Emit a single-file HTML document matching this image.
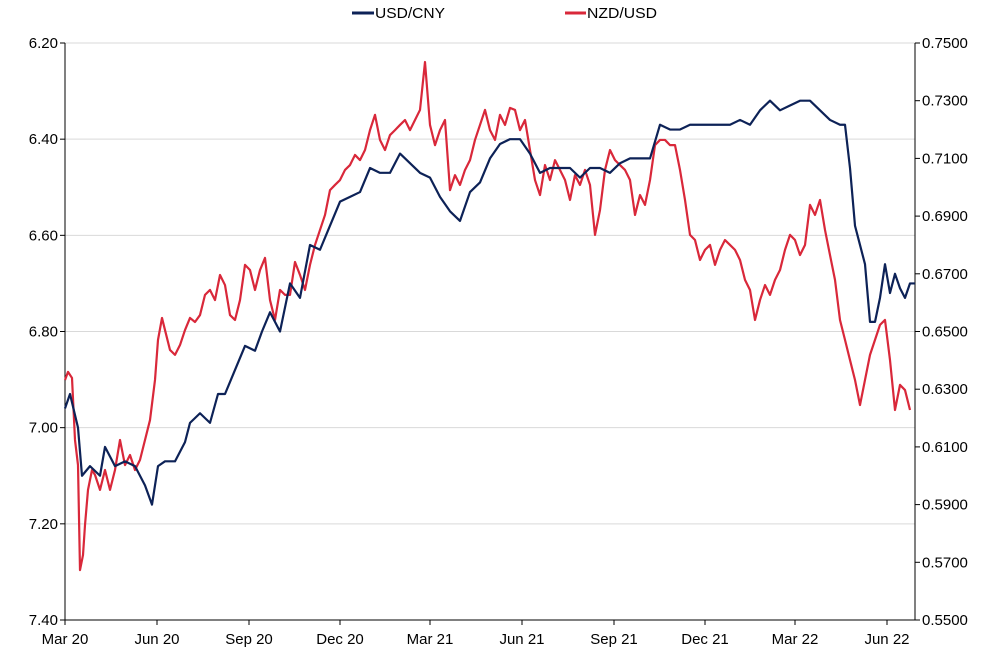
<!DOCTYPE html>
<html><head><meta charset="utf-8"><style>
body{margin:0;background:#fff;}
svg{display:block;font-family:"Liberation Sans Narrow","Liberation Sans",sans-serif;}
</style></head><body>
<svg id="chart" width="998" height="664" viewBox="0 0 998 664" xmlns="http://www.w3.org/2000/svg">
<g>
<g><line x1="352" y1="13" x2="374" y2="13" stroke="#0d2257" stroke-width="3"/><text x="375" y="18" font-size="15" fill="#000" textLength="70" lengthAdjust="spacingAndGlyphs">USD/CNY</text></g>
<g><line x1="565" y1="13" x2="586" y2="13" stroke="#d9283a" stroke-width="3"/><text x="587" y="18" font-size="15" fill="#000" textLength="70" lengthAdjust="spacingAndGlyphs">NZD/USD</text></g>
</g>
<g id="grid"></g>
<g id="axes"></g>
<g id="series"></g>
</svg>
<script>
const leftTicks=[6.20,6.40,6.60,6.80,7.00,7.20,7.40];
const rightTicks=[0.75,0.73,0.71,0.69,0.67,0.65,0.63,0.61,0.59,0.57,0.55];
const xLabels=["Mar 20","Jun 20","Sep 20","Dec 20","Mar 21","Jun 21","Sep 21","Dec 21","Mar 22","Jun 22"];
const xLabelDays=[0,92,184,275,365,457,549,640,730,822];
const cnyDays=[0,5,13,17,25,35,40,50,60,70,80,87,93,100,110,120,125,135,145,153,160,170,180,190,197,205,215,225,235,245,255,265,275,285,295,305,315,325,335,345,355,365,375,385,395,405,415,425,435,445,455,465,475,485,495,505,515,525,535,545,555,565,575,585,595,605,615,625,635,645,655,665,675,685,695,705,715,725,735,745,755,765,775,780,785,790,795,800,805,810,815,820,825,830,835,840,845,850];
const cnyVals=[6.96,6.93,7.00,7.10,7.08,7.10,7.04,7.08,7.07,7.08,7.12,7.16,7.08,7.07,7.07,7.03,6.99,6.97,6.99,6.93,6.93,6.88,6.83,6.84,6.80,6.76,6.80,6.70,6.73,6.62,6.63,6.58,6.53,6.52,6.51,6.46,6.47,6.47,6.43,6.45,6.47,6.48,6.52,6.55,6.57,6.51,6.49,6.44,6.41,6.40,6.40,6.43,6.47,6.46,6.46,6.46,6.48,6.46,6.46,6.47,6.45,6.44,6.44,6.44,6.37,6.38,6.38,6.37,6.37,6.37,6.37,6.37,6.36,6.37,6.34,6.32,6.34,6.33,6.32,6.32,6.34,6.36,6.37,6.37,6.46,6.58,6.62,6.66,6.78,6.78,6.73,6.66,6.72,6.68,6.71,6.73,6.70,6.70,6.71];
const nzdDays=[0,3,7,10,13,15,18,20,23,27,30,35,40,45,50,55,60,65,70,75,80,85,90,93,97,100,105,110,115,120,125,130,135,140,145,150,155,160,165,170,175,180,185,190,195,200,205,210,215,220,225,230,235,240,245,250,255,260,265,270,275,280,285,290,295,300,305,310,315,320,325,330,335,340,345,350,355,360,365,370,375,380,385,390,395,400,405,410,415,420,425,430,435,440,445,450,455,460,465,470,475,480,485,490,495,500,505,510,515,520,525,530,535,540,545,550,555,560,565,570,575,580,585,590,595,600,605,610,615,620,625,630,635,640,645,650,655,660,665,670,675,680,685,690,695,700,705,710,715,720,725,730,735,740,745,750,755,760,765,770,775,780,785,790,795,800,805,810,815,820,825,830,835,840,845,850];
const nzdVals=[0.6332,0.6360,0.6339,0.6124,0.6037,0.5673,0.5725,0.5829,0.5951,0.6020,0.6003,0.5951,0.6020,0.5951,0.6020,0.6124,0.6037,0.6072,0.6020,0.6055,0.6124,0.6193,0.6332,0.6471,0.6547,0.6505,0.6436,0.6419,0.6453,0.6505,0.6547,0.6533,0.6557,0.6627,0.6644,0.6609,0.6696,0.6661,0.6557,0.6540,0.6609,0.6731,0.6713,0.6644,0.6713,0.6755,0.6609,0.6540,0.6644,0.6627,0.6627,0.6741,0.6696,0.6644,0.6731,0.6800,0.6852,0.6904,0.6990,0.7008,0.7025,0.7060,0.7077,0.7112,0.7094,0.7129,0.7198,0.7251,0.7164,0.7129,0.7181,0.7198,0.7216,0.7233,0.7198,0.7233,0.7268,0.7434,0.7216,0.7146,0.7198,0.7233,0.6990,0.7042,0.7008,0.7060,0.7094,0.7164,0.7216,0.7268,0.7198,0.7164,0.7251,0.7216,0.7275,0.7268,0.7198,0.7233,0.7129,0.7025,0.6973,0.7077,0.7025,0.7094,0.7060,0.7025,0.6956,0.7042,0.7008,0.7060,0.7008,0.6835,0.6921,0.7060,0.7129,0.7094,0.7077,0.7060,0.7025,0.6904,0.6973,0.6939,0.7025,0.7146,0.7164,0.7164,0.7146,0.7146,0.7060,0.6956,0.6835,0.6817,0.6748,0.6783,0.6800,0.6731,0.6783,0.6817,0.6800,0.6783,0.6748,0.6679,0.6644,0.6540,0.6609,0.6661,0.6627,0.6679,0.6713,0.6783,0.6835,0.6817,0.6765,0.6800,0.6939,0.6904,0.6956,0.6852,0.6765,0.6679,0.6540,0.6471,0.6401,0.6332,0.6245,0.6332,0.6419,0.6471,0.6523,0.6540,0.6401,0.6228,0.6315,0.6297,0.6228];
const svg=document.getElementById('chart');
const NS='http://www.w3.org/2000/svg';
const X0=65,X1=915,Y0=43,Y1=620,D1=850;
const xScale=d=>X0+(d/D1)*(X1-X0);
const yLeft=v=>Y0+(v-6.20)/(7.40-6.20)*(Y1-Y0);
const yRight=v=>Y0+(0.75-v)/(0.75-0.55)*(Y1-Y0);
function mk(tag,attrs,parent){const e=document.createElementNS(NS,tag);for(const k in attrs)e.setAttribute(k,attrs[k]);parent.appendChild(e);return e;}
const grid=document.getElementById('grid'),axes=document.getElementById('axes'),series=document.getElementById('series');
leftTicks.forEach(v=>{const y=yLeft(v);
 const g=mk('line',{x1:X0,x2:X1,y1:y,y2:y,stroke:'#d9d9d9','stroke-width':1},grid);
 
 
 mk('line',{x1:X0-5,x2:X0,y1:y,y2:y,stroke:'#000'},axes);
 const t=mk('text',{x:X0-7,y:y+5,'text-anchor':'end','font-size':15,fill:'#000'},axes);t.textContent=v.toFixed(2);
 
 
});
rightTicks.forEach(v=>{const y=yRight(v);
 mk('line',{x1:X1,x2:X1+5,y1:y,y2:y,stroke:'#000'},axes);
 const t=mk('text',{x:X1+7,y:y+5,'font-size':15,fill:'#000'},axes);t.textContent=v.toFixed(4);
 
 
});
mk('line',{x1:X0,x2:X0,y1:Y0,y2:Y1,stroke:'#000'},axes);
mk('line',{x1:X1,x2:X1,y1:Y0,y2:Y1,stroke:'#000'},axes);
mk('line',{x1:X0,x2:X1,y1:Y1,y2:Y1,stroke:'#000'},axes);
xLabels.forEach((l,i)=>{const x=xScale(xLabelDays[i]);
 mk('line',{x1:x,x2:x,y1:Y1,y2:Y1+5,stroke:'#000'},axes);
 const t=mk('text',{x:x,y:Y1+24,'text-anchor':'middle','font-size':15,fill:'#000'},axes);t.textContent=l;
 
 
});
const nz=mk('polyline',{points:nzdDays.map((d,i)=>xScale(d)+','+yRight(nzdVals[i])).join(' '),fill:'none',stroke:'#d9283a','stroke-width':2.2,'stroke-linejoin':'round'},series);


const cn=mk('polyline',{points:cnyDays.map((d,i)=>xScale(d)+','+yLeft(cnyVals[i])).join(' '),fill:'none',stroke:'#0d2257','stroke-width':2.2,'stroke-linejoin':'round'},series);


</script>
</body></html>
